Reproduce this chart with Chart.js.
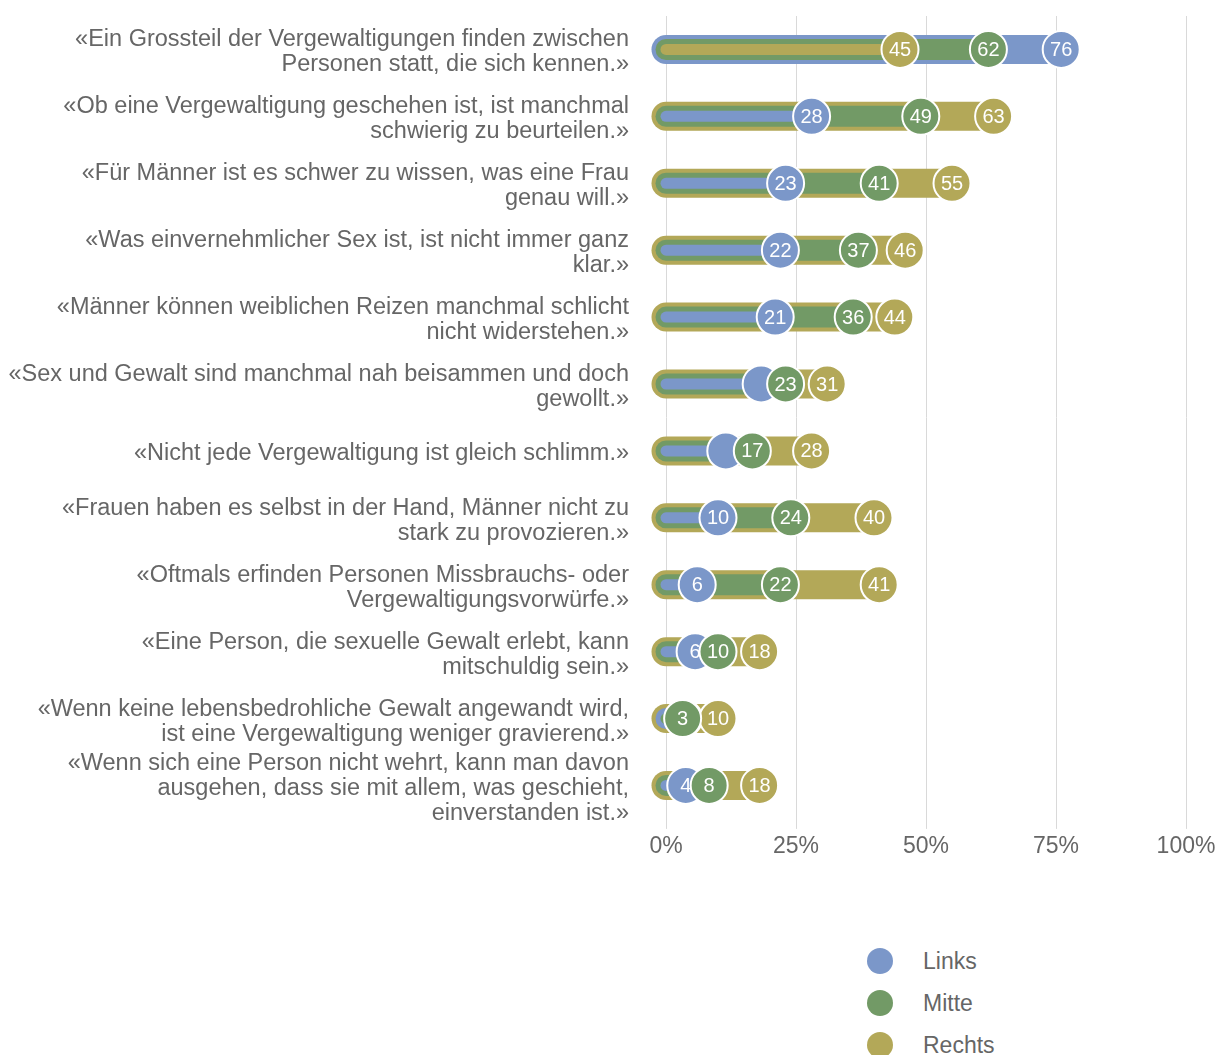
<!DOCTYPE html>
<html lang="de">
<head>
<meta charset="utf-8">
<title>Zustimmung zu Aussagen über sexuelle Gewalt</title>
<script src="https://cdn.jsdelivr.net/npm/chart.js@4.4.1/dist/chart.umd.min.js"></script>
<style>
  body { margin: 0; background: #fff; font-family: "Liberation Sans", Arial, Helvetica, sans-serif; }
  #wrap { position: relative; width: 1225px; height: 1055px; overflow: hidden; }
  #chartBox { position: absolute; left: 0; top: 0; width: 1225px; height: 880px; }
  #legend { position: absolute; left: 867px; top: 940px; }
  .item { display: flex; align-items: center; height: 42px; font-size: 23px; color: #666; }
  .dot { width: 26px; height: 26px; border-radius: 50%; margin-right: 30px; }
</style>
</head>
<body>
<div id="wrap">
  <div id="chartBox"><canvas id="chart"></canvas></div>
  <div id="legend"></div>
</div>
<script>
// statements, one array of lines per row
const statements = [
  ["«Ein Grossteil der Vergewaltigungen finden zwischen", "Personen statt, die sich kennen.»"],
  ["«Ob eine Vergewaltigung geschehen ist, ist manchmal", "schwierig zu beurteilen.»"],
  ["«Für Männer ist es schwer zu wissen, was eine Frau", "genau will.»"],
  ["«Was einvernehmlicher Sex ist, ist nicht immer ganz", "klar.»"],
  ["«Männer können weiblichen Reizen manchmal schlicht", "nicht widerstehen.»"],
  ["«Sex und Gewalt sind manchmal nah beisammen und doch", "gewollt.»"],
  ["«Nicht jede Vergewaltigung ist gleich schlimm.»"],
  ["«Frauen haben es selbst in der Hand, Männer nicht zu", "stark zu provozieren.»"],
  ["«Oftmals erfinden Personen Missbrauchs- oder", "Vergewaltigungsvorwürfe.»"],
  ["«Eine Person, die sexuelle Gewalt erlebt, kann", "mitschuldig sein.»"],
  ["«Wenn keine lebensbedrohliche Gewalt angewandt wird,", "ist eine Vergewaltigung weniger gravierend.»"],
  ["«Wenn sich eine Person nicht wehrt, kann man davon", "ausgehen, dass sie mit allem, was geschieht,", "einverstanden ist.»"]
];

// agreement in percent
const links  = [76, 28, 23, 22, 21, 18.3, 11.5, 10, 6, 5.6, 3.4, 3.8];
const mitte  = [62, 49, 41, 37, 36, 23, 16.6, 24, 22, 10, 3.2, 8.3];
const rechts = [45, 63, 55, 46, 44, 31, 28, 40, 41, 18, 10, 18];

const seriesNames  = ["Links", "Mitte", "Rechts"];
const seriesColors = ["#7b97c9", "#729a66", "#b3a858"];
const xTicks = [0, 25, 50, 75, 100];

const series = [links, mitte, rechts];
const rowKeys = statements.map(lines => lines.join(" "));
const barWidths = [29, 21, 11];   // largest value of a row gets the widest bar
const circleOrder = [2, 0, 1];    // Mitte circles on top, Links at the bottom
const fontFamily = '"Liberation Sans", Arial, sans-serif';
const labelFont = "20px " + fontFamily;

const datasets = [];

// end-point circles, one dataset per group
series.forEach((values, k) => {
  datasets.push({
    type: "scatter",
    label: seriesNames[k],
    seriesIndex: k,
    data: values.map((v, i) => ({ x: v, y: rowKeys[i] })),
    backgroundColor: seriesColors[k],
    pointBackgroundColor: seriesColors[k],
    pointBorderColor: "#fff",
    pointBorderWidth: 2,
    pointRadius: 18.5,
    showLine: false,
    clip: false,
    order: circleOrder[k]
  });
});

// bars as thick round-capped lines from 0 to the value, widest drawn first
rowKeys.forEach((key, i) => {
  const ranked = [0, 1, 2].sort((a, b) => series[b][i] - series[a][i]);
  ranked.forEach((k, r) => {
    datasets.push({
      type: "line",
      data: [{ x: 0, y: key }, { x: series[k][i], y: key }],
      borderColor: seriesColors[k],
      borderWidth: barWidths[r],
      borderCapStyle: "round",
      pointRadius: 0,
      fill: false,
      clip: false,
      order: 10 - r
    });
  });
});

// value labels inside the circles; a label is dropped if it would collide
// with one already placed in the same row (Mitte first, then Rechts, Links)
const valueLabels = {
  id: "valueLabels",
  beforeDatasetsDraw(chart) {
    const ctx = chart.ctx;
    ctx.save();
    ctx.font = labelFont;
    const show = series.map(() => []);
    rowKeys.forEach((key, i) => {
      const placed = [];
      [1, 2, 0].forEach(k => {
        const pt = chart.getDatasetMeta(k).data[i];
        const w = ctx.measureText(String(Math.round(series[k][i]))).width;
        const hit = placed.some(p => Math.abs(p.x - pt.x) < (p.w + w) / 2 + 5.5);
        show[k][i] = !hit;
        if (!hit) placed.push({ x: pt.x, w: w });
      });
    });
    ctx.restore();
    chart.$labelShow = show;
  },
  afterDatasetDraw(chart, args) {
    const ds = chart.data.datasets[args.index];
    if (ds.seriesIndex === undefined) return;
    const k = ds.seriesIndex;
    const ctx = chart.ctx;
    ctx.save();
    ctx.font = labelFont;
    ctx.fillStyle = "#fff";
    ctx.textAlign = "center";
    ctx.textBaseline = "middle";
    args.meta.data.forEach((pt, i) => {
      if (!chart.$labelShow[k][i]) return;
      ctx.fillText(String(Math.round(series[k][i])), pt.x, pt.y + 1);
    });
    ctx.restore();
  }
};

const chart = new Chart(document.getElementById("chart"), {
  type: "line",
  data: { labels: rowKeys, datasets: datasets },
  plugins: [valueLabels],
  options: {
    responsive: true,
    maintainAspectRatio: false,
    animation: false,
    events: [],
    layout: { autoPadding: false, padding: { top: 16, right: 39, bottom: 15.5, left: 0 } },
    plugins: {
      legend: { display: false },
      tooltip: { enabled: false }
    },
    scales: {
      x: {
        type: "linear",
        min: 0,
        max: 100,
        afterBuildTicks: scale => { scale.ticks = xTicks.map(v => ({ value: v })); },
        ticks: {
          callback: v => v + "%",
          color: "#666",
          font: { size: 23, family: fontFamily },
          padding: 4,
          maxRotation: 0
        },
        grid: { color: "#d9d9d9", lineWidth: 1, tickLength: 10 },
        border: { display: false }
      },
      y: {
        type: "category",
        labels: rowKeys,
        offset: true,
        ticks: {
          callback: (v, i) => statements[i],
          color: "#666",
          font: { size: 23.5, lineHeight: "25px", family: fontFamily },
          padding: 37,
          labelOffset: 3,
          autoSkip: false
        },
        grid: { display: false, drawTicks: false },
        border: { display: false },
        afterFit: scale => {
          scale.width = 666;
          scale.paddingTop = 0;
          scale.paddingBottom = 0;
        }
      }
    }
  }
});

// legend built from the circle datasets
const legend = document.getElementById("legend");
seriesNames.forEach((name, k) => {
  const item = document.createElement("div");
  item.className = "item";
  item.innerHTML = '<span class="dot" style="background:' + seriesColors[k] + '"></span>' + name;
  legend.appendChild(item);
});
</script>
</body>
</html>
